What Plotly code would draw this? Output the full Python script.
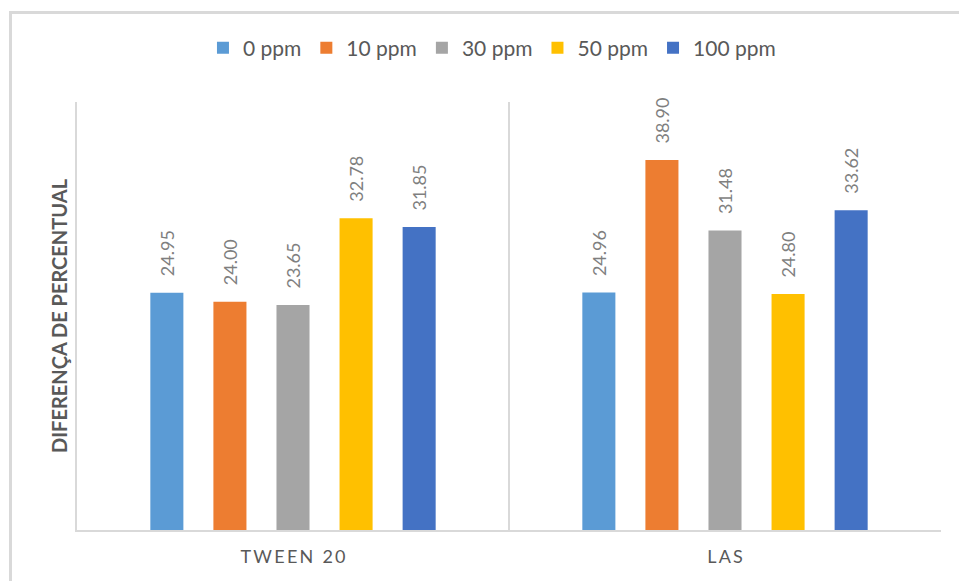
import plotly.graph_objects as go

# Surfactant groups and the percentage difference for each concentration
categories = ["TWEEN 20", "LAS"]
series_names = ["0 ppm", "10 ppm", "30 ppm", "50 ppm", "100 ppm"]
values = {
    "0 ppm": [24.95, 24.96],
    "10 ppm": [24.00, 38.90],
    "30 ppm": [23.65, 31.48],
    "50 ppm": [32.78, 24.80],
    "100 ppm": [31.85, 33.62],
}
colors = ["#5B9BD5", "#ED7D31", "#A5A5A5", "#FFC000", "#4472C4"]
y_title = "DIFERENÇA DE PERCENTUAL"

W, H = 959, 581
M_L, M_R, M_T, M_B = 77, 18, 102, 51
FONT = "Lato, 'Open Sans', sans-serif"
GRID = "#D9D9D9"


def spaced(label):
    # widen the category captions with thin spaces between the letters
    return "\u2009".join(label)


fig = go.Figure()
for name, color in zip(series_names, colors):
    fig.add_trace(go.Bar(
        name=name,
        x=categories,
        y=values[name],
        marker=dict(color=color, line=dict(width=0)),
        texttemplate="\u2003%{y:.2f}",
        textposition="outside",
        textangle=-90,
        constraintext="none",
        cliponaxis=False,
        textfont=dict(family=FONT, size=18, color="#7F7F7F"),
    ))

# Outer chart border (only the top and left edges fall inside the page)
pw, ph = W - M_L - M_R, H - M_T - M_B
def px_x(px):
    return (px - M_L) / pw
def px_y(py):
    return (H - M_B - py) / ph

border_x, border_y = 10.5, 12.5
fig.add_shape(type="line", xref="paper", yref="paper",
              x0=px_x(border_x), x1=px_x(border_x), y0=px_y(border_y), y1=px_y(H + 5),
              line=dict(color=GRID, width=3))
fig.add_shape(type="line", xref="paper", yref="paper",
              x0=px_x(border_x - 1.5), x1=px_x(W + 5), y0=px_y(border_y), y1=px_y(border_y),
              line=dict(color=GRID, width=3))

fig.update_layout(
    width=W, height=H,
    margin=dict(l=M_L, r=M_R, t=M_T, b=M_B),
    paper_bgcolor="white", plot_bgcolor="white",
    barmode="group", bargap=0.27, bargroupgap=0.476,
    font=dict(family=FONT, color="#595959"),
    showlegend=True,
    legend=dict(
        orientation="h", xref="container", yref="container",
        x=0.513, xanchor="center", y=1 - 48 / H, yanchor="middle",
        font=dict(family=FONT, size=21, color="#595959"),
        itemclick=False, itemdoubleclick=False,
        itemwidth=30,
        traceorder="normal",
    ),
    xaxis=dict(
        type="category", tickson="boundaries",
        tickvals=categories, ticktext=[spaced(c) for c in categories],
        showgrid=True, gridcolor=GRID, gridwidth=2,
        showline=True, linecolor=GRID, linewidth=2,
        ticks="", ticklen=0,
        tickfont=dict(family=FONT, size=18, color="#595959"),
        ticklabelstandoff=9,
    ),
    yaxis=dict(
        range=[0, 45], showgrid=False, zeroline=False,
        showline=True, linecolor=GRID, linewidth=2,
        showticklabels=False, ticks="",
        title=dict(text=y_title, standoff=2,
                   font=dict(family=FONT, size=20, color="#595959", weight="bold")),
    ),
)

fig.write_html("out.html")
